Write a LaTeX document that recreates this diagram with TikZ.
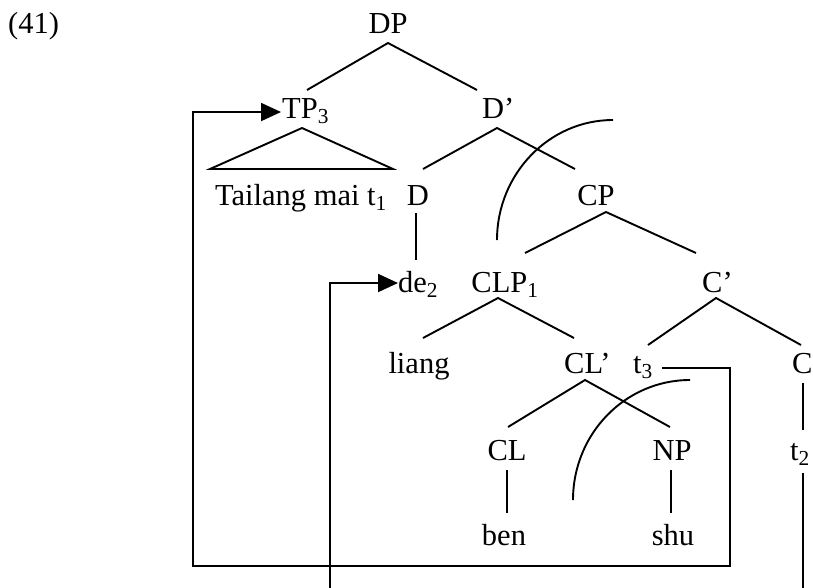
\documentclass[tikz,border=0pt]{standalone}
\usepackage{fontspec}
\setmainfont{Liberation Serif}
\usetikzlibrary{arrows.meta}
\begin{document}
\begin{tikzpicture}[x=1pt,y=-1pt,
  lbl/.style={anchor=base west,inner sep=0pt,font=\fontsize{30.5}{34}\selectfont},
  lblc/.style={anchor=base,inner sep=0pt,font=\fontsize{30.5}{34}\selectfont},
  br/.style={line width=1.9pt},
  mv/.style={line width=1.9pt,-{Triangle[length=20pt,width=18pt]}},
]
\useasboundingbox (0,0) rectangle (813,587);
\clip (0,0) rectangle (813,587);
% labels
\node[lbl]  (ex)    at (8,33)    {(41)};
\node[lblc] (DP)    at (388,33)  {DP};
\node[lbl]  (TP)    at (282,118) {TP\textsubscript{3}};
\node[lbl]  (Dbar)  at (482,118) {D’};
\node[lblc] (Tail)  at (301,205) {Tailang mai t\textsubscript{1}};
\node[lblc] (D)     at (418,205) {D};
\node[lblc] (CP)    at (596,205) {CP};
\node[lbl]  (de)    at (398,292) {de\textsubscript{2}};
\node[lblc] (CLP)   at (505,292) {CLP\textsubscript{1}};
\node[lbl]  (Cbar)  at (702,292) {C’};
\node[lblc] (liang) at (419,373) {liang};
\node[lbl]  (CLbar) at (564,373) {CL’};
\node[lbl]  (t3)    at (633,373) {t\textsubscript{3}};
\node[lbl]  (C)     at (792,373) {C};
\node[lblc] (CL)    at (507,460) {CL};
\node[lblc] (NP)    at (672,460) {NP};
\node[lbl]  (t2)    at (790,460) {t\textsubscript{2}};
\node[lblc] (ben)   at (504,545) {ben};
\node[lblc] (shu)   at (673,545) {shu};
% branch end points
\coordinate (DPb) at (388,43);
\coordinate (TPt) at (307,90);
\coordinate (Dbt) at (477,90);
\coordinate (TPb) at (302,128);
\coordinate (TrL) at (210,169);
\coordinate (TrR) at (393,169);
\coordinate (Dbb) at (497,128);
\coordinate (Dt)  at (423,169);
\coordinate (CPt) at (575,169);
\coordinate (Db)  at (416,213);
\coordinate (det) at (416,260);
\coordinate (CPb) at (606,212);
\coordinate (CLPt) at (525,253);
\coordinate (Cbt) at (696,253);
\coordinate (CLPb) at (498,298);
\coordinate (liat) at (423,338);
\coordinate (CLbt) at (574,338);
\coordinate (Cbb) at (716,298);
\coordinate (t3t) at (648,345);
\coordinate (Ct)  at (801,345);
\coordinate (CLbb) at (585,380);
\coordinate (CLt) at (508,427);
\coordinate (NPt) at (670,427);
\coordinate (CLb) at (507,470);
\coordinate (bent) at (507,513);
\coordinate (NPb) at (671,470);
\coordinate (shut) at (671,513);
\coordinate (Cb)  at (803,383);
\coordinate (t2t) at (803,430);
% tree branches
\draw[br] (TPt) -- (DPb) -- (Dbt);
\draw[br] (TPb) -- (TrL) -- (TrR) -- cycle;
\draw[br] (Dt) -- (Dbb) -- (CPt);
\draw[br] (Db) -- (det);
\draw[br] (CLPt) -- (CPb) -- (Cbt);
\draw[br] (liat) -- (CLPb) -- (CLbt);
\draw[br] (t3t) -- (Cbb) -- (Ct);
\draw[br] (CLt) -- (CLbb) -- (NPt);
\draw[br] (CLb) -- (bent);
\draw[br] (NPb) -- (shut);
\draw[br] (Cb) -- (t2t);
% movement paths
\coordinate (t3r) at (662,368);
\coordinate (TPin) at (281,112);
\draw[mv] (t3r) -- (730,368) -- (730,566) -- (193,566) -- (193,112) -- (TPin);
\coordinate (t2b) at (803,473);
\coordinate (dein) at (398,283);
\draw[mv] (t2b) -- (803,600) -- (330,600) -- (330,283) -- (dein);
% arcs
\coordinate (a1s) at (613,120);
\coordinate (a1e) at (497,240);
\draw[br] (a1s) .. controls (549,120) and (497,174) .. (a1e);
\coordinate (a2s) at (690,380);
\coordinate (a2e) at (573,500);
\draw[br] (a2s) .. controls (625,380) and (573,434) .. (a2e);
\end{tikzpicture}
\end{document}
